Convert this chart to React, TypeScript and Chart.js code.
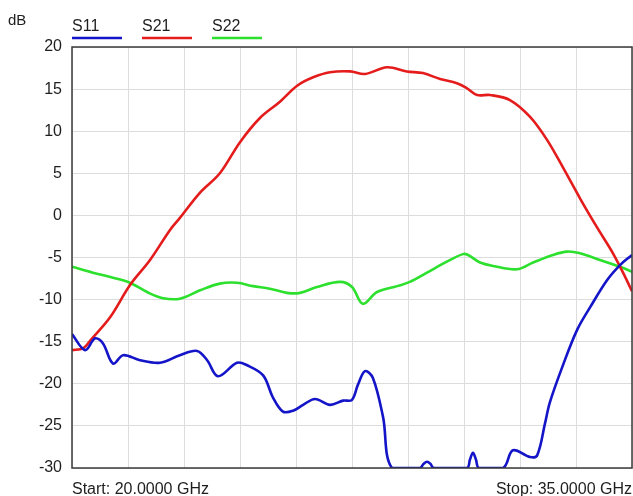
import React, { useEffect, useRef } from "react";
import { Chart, registerables } from "chart.js";

Chart.register(...registerables);

const yTicks = [20, 15, 10, 5, 0, -5, -10, -15, -20, -25, -30];
const xGridValues = [20, 21.5, 23, 24.5, 26, 27.5, 29, 30.5, 32, 33.5, 35];
const seriesNames = ["S11", "S21", "S22"];
const startLabel = "Start: 20.0000 GHz";
const stopLabel = "Stop: 35.0000 GHz";
const yUnit = "dB";

const s11Freq = [20.0, 20.35, 20.62, 20.83, 21.1, 21.37, 21.82, 22.36, 22.89, 23.35, 23.62, 23.91, 24.42, 24.69, 25.12, 25.38, 25.65, 25.92, 26.19, 26.51, 26.91, 27.26, 27.5, 27.66, 27.85, 28.06, 28.33, 28.57, 29.32, 29.42, 29.51, 29.6, 29.69, 30.58, 30.66, 30.74, 30.82, 30.9, 31.55, 31.81, 32.27, 32.46, 32.67, 32.8, 33.15, 33.53, 33.88, 34.33, 34.68, 35.0];
const s11Values = [-14.1, -16.0, -14.6, -15.2, -17.6, -16.6, -17.2, -17.5, -16.6, -16.1, -17.2, -19.1, -17.5, -17.8, -19.0, -21.6, -23.3, -23.2, -22.5, -21.8, -22.5, -22.0, -21.9, -20.1, -18.5, -19.3, -23.9, -30, -30, -29.5, -29.25, -29.5, -30, -30, -29.0, -28.2, -29.0, -30, -30, -27.9, -28.7, -28.5, -24.7, -22.2, -17.8, -13.6, -10.9, -7.7, -5.9, -4.7];

const s21Freq = [20.0, 20.3, 20.5, 21.02, 21.55, 22.09, 22.63, 22.89, 23.43, 23.96, 24.5, 25.04, 25.57, 26.03, 26.46, 26.91, 27.45, 27.85, 28.44, 28.97, 29.4, 29.86, 30.31, 30.58, 30.85, 31.2, 31.73, 32.27, 32.72, 33.15, 33.61, 34.06, 34.49, 34.76, 35.0];
const s21Values = [-16.0, -15.8, -14.8, -12.1, -8.3, -5.3, -1.7, -0.3, 2.7, 5.0, 8.7, 11.6, 13.5, 15.4, 16.4, 17.0, 17.1, 16.8, 17.6, 17.1, 16.9, 16.2, 15.7, 15.1, 14.3, 14.3, 13.7, 11.7, 9.0, 5.7, 2.0, -1.4, -4.5, -6.8, -9.0];

const s22Freq = [20.0, 20.56, 21.1, 21.55, 22.01, 22.41, 22.89, 23.43, 23.96, 24.42, 24.85, 25.3, 25.76, 26.11, 26.56, 27.18, 27.5, 27.79, 28.17, 28.71, 29.05, 29.51, 30.04, 30.47, 30.61, 30.93, 31.28, 31.92, 32.35, 32.88, 33.26, 33.61, 34.14, 34.68, 35.0];
const s22Values = [-6.1, -6.8, -7.4, -8.0, -9.1, -9.8, -9.9, -8.9, -8.1, -8.0, -8.4, -8.7, -9.2, -9.2, -8.5, -7.9, -8.5, -10.5, -9.1, -8.4, -7.9, -6.8, -5.5, -4.6, -4.7, -5.6, -6.0, -6.4, -5.6, -4.7, -4.3, -4.5, -5.3, -6.1, -6.7];

const colors = ["#1414c8", "#e41c1c", "#2ee02e"];
const FONT = '"Liberation Sans", Arial, sans-serif';

const toPoints = (xs: number[], ys: number[]) => xs.map((x, i) => ({ x, y: ys[i] }));

export default function App() {
  const canvasRef = useRef<HTMLCanvasElement | null>(null);

  useEffect(() => {
    if (!canvasRef.current) return;
    const overlay = {
      id: "overlay",
      afterDraw(chart: any) {
        const { ctx, chartArea } = chart;
        const { left, right, top, bottom } = chartArea;
        ctx.save();
        // frame
        ctx.strokeStyle = "#3a3a3a";
        ctx.lineWidth = 1.5;
        ctx.strokeRect(left, top, right - left, bottom - top);
        // legend
        ctx.font = `16px ${FONT}`;
        ctx.textBaseline = "alphabetic";
        ctx.textAlign = "left";
        seriesNames.forEach((name, i) => {
          const x0 = left + i * 70;
          ctx.fillStyle = "#1e1e1e";
          ctx.fillText(name, x0, 31);
          ctx.strokeStyle = colors[i];
          ctx.lineWidth = 2.5;
          ctx.beginPath();
          ctx.moveTo(x0, 38);
          ctx.lineTo(x0 + 50, 38);
          ctx.stroke();
        });
        // unit
        ctx.fillStyle = "#1e1e1e";
        ctx.font = `15px ${FONT}`;
        ctx.fillText(yUnit, 8, 25);
        // start / stop
        ctx.font = `16px ${FONT}`;
        ctx.textAlign = "left";
        ctx.fillText(startLabel, left, 494);
        ctx.textAlign = "right";
        ctx.fillText(stopLabel, right, 494);
        ctx.restore();
      },
    };

    const chart = new Chart(canvasRef.current, {
      type: "line",
      data: {
        datasets: [
          { label: seriesNames[0], data: toPoints(s11Freq, s11Values), borderColor: colors[0] },
          { label: seriesNames[1], data: toPoints(s21Freq, s21Values), borderColor: colors[1] },
          { label: seriesNames[2], data: toPoints(s22Freq, s22Values), borderColor: colors[2] },
        ].map((d) => ({ ...d, borderWidth: 2.6, pointRadius: 0, tension: 0.35, fill: false })),
      },
      options: {
        animation: false,
        responsive: false,
        devicePixelRatio: 1,
        layout: { padding: { left: 0, top: 47, right: 1, bottom: 28 } },
        plugins: { legend: { display: false }, tooltip: { enabled: false } },
        scales: {
          x: {
            type: "linear",
            min: 20,
            max: 35,
            afterBuildTicks: (s: any) => {
              s.ticks = xGridValues.map((v) => ({ value: v }));
            },
            afterFit: (s: any) => {
              s.height = 0;
            },
            ticks: { display: false },
            grid: { color: "#dcdcdc", lineWidth: 1, drawTicks: false },
            border: { display: false },
          },
          y: {
            min: -30,
            max: 20,
            afterBuildTicks: (s: any) => {
              s.ticks = yTicks.map((v) => ({ value: v }));
            },
            afterFit: (s: any) => {
              s.width = 72;
            },
            ticks: { color: "#1e1e1e", font: { family: FONT, size: 16 }, padding: 10 },
            grid: { color: "#dcdcdc", lineWidth: 1, drawTicks: false },
            border: { display: false },
          },
        },
      },
      plugins: [overlay],
    } as any);
    return () => chart.destroy();
  }, []);

  return (
    <div style={{ position: "fixed", left: 0, top: 0, width: 633, height: 496, background: "#fff" }}>
      <canvas ref={canvasRef} width={633} height={496} style={{ display: "block" }} />
    </div>
  );
}
